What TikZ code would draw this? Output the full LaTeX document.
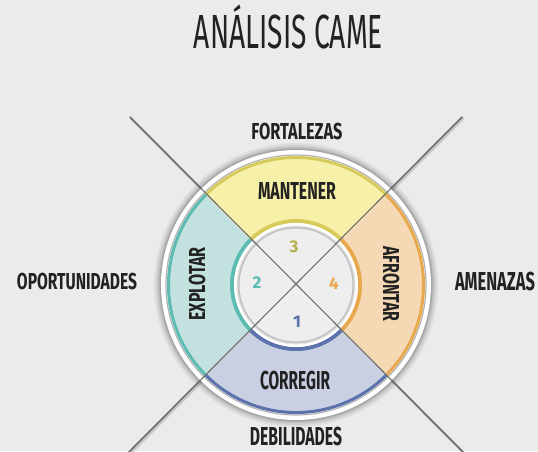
\documentclass[tikz,border=0pt]{standalone}
\usepackage{fontspec}
\setmainfont{Fira Sans}
\usepackage{graphicx}
\definecolor{bg}{HTML}{EBEBEB}
\definecolor{yfill}{HTML}{F6F0A8}
\definecolor{yline}{HTML}{D6CB5A}
\definecolor{ofill}{HTML}{F5D9B5}
\definecolor{oline}{HTML}{E8A84E}
\definecolor{bfill}{HTML}{C8D0E2}
\definecolor{bline}{HTML}{5C72AC}
\definecolor{tfill}{HTML}{C3E2DF}
\definecolor{tline}{HTML}{5CBCB2}
\definecolor{ink}{HTML}{222222}
\definecolor{diag}{HTML}{6E6E6E}
\definecolor{innerbg}{HTML}{EEEEEE}
\newcommand\capbox[1]{\raisebox{0pt}[\fontcharht\font`\A][0pt]{#1}}
\newcommand\fitlbl[3]{\resizebox{#1pt}{#2pt}{\capbox{#3}}}
\tikzset{
  lbl/.style={inner sep=0pt, text=ink, font=\bfseries},
  ttl/.style={inner sep=0pt, text=ink, font=\mdseries},
  num/.style={inner sep=0pt, font=\bfseries\fontsize{17}{17}\selectfont},
  diagline/.style={draw=diag, line width=1.4pt, line cap=round},
  diagshadow/.style={draw=black!22, line width=2.4pt, line cap=round},
}
\newcommand\seg[4]{% start angle, end angle, fill, line
  \fill[#3] (#1:129) arc[start angle=#1, end angle=#2, radius=129]
     -- (#2:62) arc[start angle=#2, end angle=#1, radius=62] -- cycle;
  \draw[#4, line width=3pt] (#1:127.5) arc[start angle=#1, end angle=#2, radius=127.5];
  \draw[#4, line width=4pt] (#1:64) arc[start angle=#1, end angle=#2, radius=64];
}
\begin{document}
\begin{tikzpicture}[x=1pt,y=1pt]
\useasboundingbox (0,0) rectangle (538,-451);
\fill[bg] (0,0) rectangle (538,-451);
\coordinate (c) at (296,-285);
\coordinate (tl) at (130,-117);
\coordinate (tr) at (462,-117);
\coordinate (bl) at (128,-453);
\coordinate (br) at (464,-453);
% line shadows
\draw[diagshadow] ([shift={(1.2,-1.5)}]tl) -- ([shift={(1.2,-1.5)}]br);
\draw[diagshadow] ([shift={(1.2,-1.5)}]tr) -- ([shift={(1.2,-1.5)}]bl);
\draw[diagline] (tl) -- (br);
\draw[diagline] (tr) -- (bl);
\begin{scope}[shift={(c)}]
  % outer soft shadow
  \foreach \r/\o in {142/0.05,140/0.07,138/0.09,136.5/0.12}{
    \fill[black, opacity=\o] (0,0) circle[radius=\r];
  }
  \fill[white!96!bg] (0,0) circle[radius=135];
  \draw[black!30, line width=1.2pt] (0,0) circle[radius=130];
  \seg{45}{135}{yfill}{yline}
  \seg{135}{225}{tfill}{tline}
  \seg{225}{315}{bfill}{bline}
  \seg{-45}{45}{ofill}{oline}
  % inner disk
  \fill[white] (0,0) circle[radius=62];
  \foreach \r/\o in {59.5/0.10,58.5/0.10,57.5/0.08}{
    \fill[black, opacity=\o] (0,0) circle[radius=\r];
  }
  \fill[innerbg] (0,0) circle[radius=56.5];
\end{scope}
% diagonals over ring
\draw[diag, line width=1.1pt] (tl) -- (br);
\draw[diag, line width=1.1pt] (tr) -- (bl);
% labels
\node[ttl] (title) at (288.5,-31.5) {\fitlbl{189}{33}{ANÁLISIS CAME}};
\node[lbl] (fort) at (297,-131.5) {\fitlbl{91}{16}{FORTALEZAS}};
\node[lbl] (opor) at (77,-281.5) {\fitlbl{120}{16}{OPORTUNIDADES}};
\node[lbl] (amen) at (495,-281) {\fitlbl{80}{18}{AMENAZAS}};
\node[lbl] (debi) at (296,-436) {\fitlbl{92}{18}{DEBILIDADES}};
\node[lbl] (mant) at (297,-191) {\fitlbl{78}{17}{MANTENER}};
\node[lbl] (corr) at (295,-380) {\fitlbl{70}{18}{CORREGIR}};
\node[lbl, rotate=90] (expl) at (197,-284) {\fitlbl{73}{16}{EXPLOTAR}};
\node[lbl, rotate=-90] (afro) at (391,-284) {\fitlbl{75}{16}{AFRONTAR}};
% numbers
\node[num, text=yline!85!black] (n3) at (294,-247) {3};
\node[num, text=tline] (n2) at (257,-283) {2};
\node[num, text=oline] (n4) at (334,-284) {4};
\node[num, text=bline] (n1) at (297,-322) {1};
\end{tikzpicture}
\end{document}
